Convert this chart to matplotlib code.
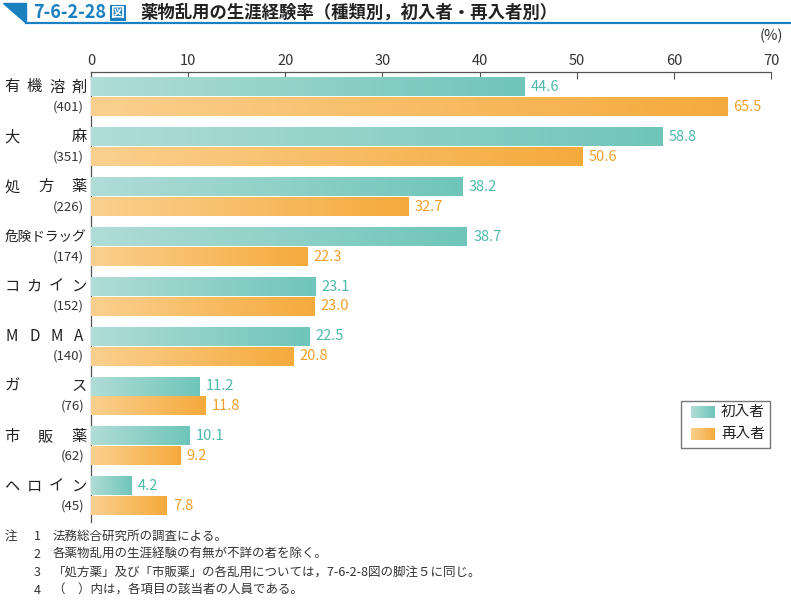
import numpy as np
import matplotlib
matplotlib.use("Agg")
import matplotlib.pyplot as plt
from matplotlib.patches import Polygon, Rectangle
from matplotlib.lines import Line2D

plt.rcParams['font.family'] = ['Noto Sans CJK JP', 'DejaVu Sans']

# data
categories = ['有機溶剤', '大麻', '処方薬', '危険ドラッグ', 'コカイン', 'MDMA', 'ガス', '市販薬', 'ヘロイン']
counts = ['(401)', '(351)', '(226)', '(174)', '(152)', '(140)', '(76)', '(62)', '(45)']
first_timers = [44.6, 58.8, 38.2, 38.7, 23.1, 22.5, 11.2, 10.1, 4.2]
repeaters = [65.5, 50.6, 32.7, 22.3, 23.0, 20.8, 11.8, 9.2, 7.8]
series_names = ['初入者', '再入者']
notes = ['法務総合研究所の調査による。',
         '各薬物乱用の生涯経験の有無が不詳の者を除く。',
         '「処方薬」及び「市販薬」の各乱用については，7-6-2-8図の脚注５に同じ。',
         '（　）内は，各項目の該当者の人員である。']

W, H = 791, 603
fig = plt.figure(figsize=(W / 100, H / 100), dpi=100)
ax = fig.add_axes([91 / W, 1 - 522 / H, (771 - 91) / W, (522 - 72) / H])

teal_grad = ['#b0ddd7', '#6fc5b9']
orng_grad = ['#fbd08f', '#f5aa3c']
teal_txt = '#4fb9ac'
orng_txt = '#f0a02a'

y = np.arange(len(categories))
bh = 0.37
b1 = ax.barh(y - 0.2, first_timers, height=bh, color='none', zorder=2)
b2 = ax.barh(y + 0.2, repeaters, height=bh, color='none', zorder=2)


def gradient(c0, c1):
    c0 = np.array(matplotlib.colors.to_rgb(c0))
    c1 = np.array(matplotlib.colors.to_rgb(c1))
    t = np.linspace(0, 1, 256)[None, :, None]
    return c0 + (c1 - c0) * t


def fill_gradient(bars, cols):
    img = gradient(*cols)
    for p in bars.patches:
        x0, y0, w, h = p.get_x(), p.get_y(), p.get_width(), p.get_height()
        ax.imshow(img, extent=(x0, x0 + w, y0 + h, y0), aspect='auto', zorder=3,
                  interpolation='bilinear')


fill_gradient(b1, teal_grad)
fill_gradient(b2, orng_grad)

for yy, v in zip(y - 0.2, first_timers):
    ax.annotate(f'{v:.1f}', (v, yy), xytext=(4.5, 0), textcoords='offset points',
                va='center', ha='left', fontsize=10.5, color=teal_txt)
for yy, v in zip(y + 0.2, repeaters):
    ax.annotate(f'{v:.1f}', (v, yy), xytext=(4.5, 0), textcoords='offset points',
                va='center', ha='left', fontsize=10.5, color=orng_txt)

ax.set_xlim(0, 70)
ax.set_ylim(8.52, -0.5)
ax.xaxis.tick_top()
ax.set_xticks(np.arange(0, 71, 10))
ax.tick_params(axis='x', direction='in', length=5, width=0.8, color='#555555',
               labelsize=10.5, pad=3, labelcolor='#333333')
ax.set_yticks([])
for s in ['right', 'bottom']:
    ax.spines[s].set_visible(False)
for s in ['top', 'left']:
    ax.spines[s].set_color('#555555')
    ax.spines[s].set_linewidth(0.9)
ax.text(1.0, 1.065, '(%)', transform=ax.transAxes, ha='center', va='bottom',
        fontsize=10.5, color='#333333')

# category labels, spread across a fixed width like the original
trans = matplotlib.transforms.blended_transform_factory(fig.transFigure, ax.transData)
xl, xr, cw = 5 / W, 86 / W, 14 / W
for i, (name, cnt) in enumerate(zip(categories, counts)):
    n = len(name)
    if n >= 6:
        ax.text(xl, i - 0.2, name, transform=trans, ha='left', va='center',
                fontsize=9.8, color='#222222')
    else:
        for j, ch in enumerate(name):
            cx = xl + cw / 2 + j * (xr - xl - cw) / (n - 1)
            ax.text(cx, i - 0.2, ch, transform=trans, ha='center', va='center',
                    fontsize=11, color='#222222')
    ax.text(84 / W, i + 0.2, cnt, transform=trans, ha='right', va='center',
            fontsize=9.5, color='#333333')

# legend
lx0, ly0, lw, lh = 681 / W, 1 - 448 / H, 89 / W, 47 / H
fig.patches.append(Rectangle((lx0, ly0), lw, lh, transform=fig.transFigure,
                             fill=False, ec='#777777', lw=1))
gimg = [gradient(*teal_grad), gradient(*orng_grad)]
for k, (nm, g) in enumerate(zip(series_names, gimg)):
    yc = 412 + k * 22
    iax = fig.add_axes([691 / W, 1 - (yc + 6) / H, 24 / W, 12 / H])
    iax.imshow(g, aspect='auto', interpolation='bilinear')
    iax.axis('off')
    fig.text(721 / W, 1 - yc / H, nm, ha='left', va='center', fontsize=10.5, color='#222222')

# title
blue = '#1a80c0'
fig.patches.append(Polygon([(3 / W, 1 - 3 / H), (26 / W, 1 - 3 / H), (26 / W, 1 - 23 / H)],
                           closed=True, transform=fig.transFigure, color=blue))
fig.lines.append(Line2D([26 / W, 1], [1 - 22.5 / H, 1 - 22.5 / H], transform=fig.transFigure,
                        color=blue, lw=1.6))
fig.text(33 / W, 1 - 13 / H, '7-6-2-28', ha='left', va='center', fontsize=13,
         fontweight='bold', color=blue)
fig.text(118 / W, 1 - 13 / H, '図', ha='center', va='center', fontsize=10,
         fontweight='bold', color='white',
         bbox=dict(boxstyle='square,pad=0.08', fc=blue, ec='none'))
fig.text(140 / W, 1 - 13 / H, '薬物乱用の生涯経験率（種類別，初入者・再入者別）', ha='left',
         va='center', fontsize=12.5, fontweight='bold', color='#222222')

# notes
for k, t in enumerate(notes):
    yy = 1 - (536 + k * 18) / H
    if k == 0:
        fig.text(5 / W, yy, '注', ha='left', va='center', fontsize=9, color='#333333')
    fig.text(37 / W, yy, str(k + 1), ha='center', va='center', fontsize=9, color='#333333')
    fig.text(53 / W, yy, t, ha='left', va='center', fontsize=9, color='#333333')

fig.savefig('out.png', dpi=100)
